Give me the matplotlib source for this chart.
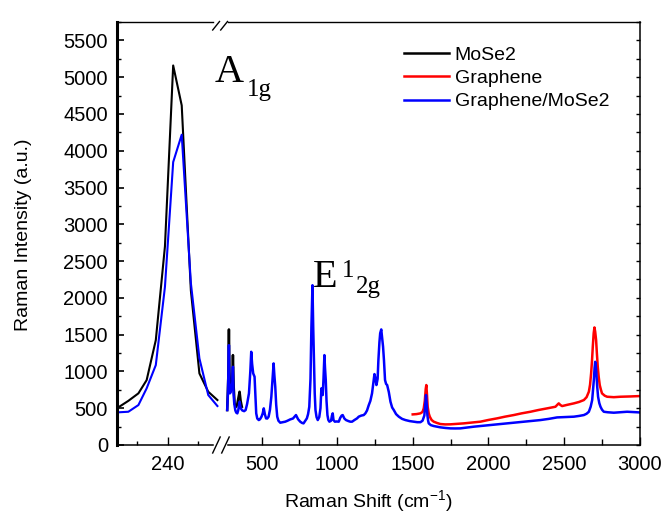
import matplotlib
matplotlib.use("Agg")
import matplotlib.pyplot as plt
from matplotlib.ticker import MultipleLocator, FixedLocator
from matplotlib.lines import Line2D

plt.rcParams['font.family'] = ['Liberation Sans', 'DejaVu Sans']
plt.rcParams['mathtext.default'] = 'regular'

# ---- A1g region (low wavenumber window) ----
low_shift = [223.2, 227.0, 230.3, 233.0, 236.0, 239.0, 241.7, 244.5, 247.5, 250.3, 253.2, 256.2]
low_mose2 = [498, 600, 702, 882, 1425, 2700, 5159, 4616, 2100, 973, 724, 611]
low_hetero = [443, 452, 543, 770, 1086, 2150, 3846, 4218, 2200, 1177, 679, 530]

# ---- wide window ----
mose2_shift = [273, 280, 284.5, 288, 292, 300, 306, 311, 316, 322, 333, 340, 348, 355, 362, 370]
mose2_int = [475, 900, 1571, 1000, 800, 740, 800, 1222, 800, 560, 520, 560, 650, 724, 600, 520]

graphene_shift = [1500, 1525, 1551, 1565, 1573, 1580, 1586, 1590, 1594, 1599, 1606, 1613, 1625,
                  1639, 1660, 1683, 1715, 1749, 1790, 1838, 1890, 1948, 2000, 2058, 2110, 2168,
                  2220, 2279, 2330, 2389, 2444, 2458, 2466, 2476, 2488, 2520, 2566, 2600, 2632,
                  2650, 2665, 2673, 2680, 2686, 2691, 2697, 2702, 2707, 2713, 2718, 2724, 2730,
                  2737, 2745, 2752, 2770, 2786, 2830, 2874, 2940, 3000]
graphene_int = [416, 420, 430, 450, 498, 600, 760, 815, 700, 520, 430, 385, 340,
                317, 300, 285, 280, 281, 287, 294, 305, 317, 340, 362, 385, 407,
                430, 452, 475, 498, 520, 550, 566, 545, 529, 545, 566, 585, 611,
                650, 724, 820, 973, 1150, 1335, 1520, 1598, 1540, 1426, 1250, 1064, 930,
                815, 750, 702, 670, 656, 650, 656, 660, 665]

hetero_shift = [273, 278, 284.5, 288, 291, 296, 302, 307, 311, 315, 320, 327, 333, 340, 346,
                355, 362, 373, 385, 395, 405, 417, 426, 432, 438, 445, 450, 454, 459, 465,
                472, 482, 490, 500, 508, 515, 522, 530, 538, 547, 556, 565, 573, 580, 585,
                591, 597, 604, 612, 624, 640, 657, 672, 690, 708, 728, 742, 756, 768, 778,
                790, 800, 808, 816, 824, 830, 837, 842, 848, 852, 857, 864, 872, 882, 890,
                896, 900, 905, 910, 916, 920, 925, 930, 936, 942, 949, 960, 966, 971, 976,
                985, 998, 1011, 1021, 1030, 1037, 1048, 1059, 1075, 1087, 1099, 1115, 1132,
                1143, 1160, 1176, 1187, 1198, 1209, 1220, 1231, 1240, 1247, 1254, 1260, 1268,
                1273, 1280, 1285, 1292, 1298, 1304, 1310, 1317, 1324, 1331, 1342, 1353, 1364,
                1375, 1390, 1408, 1430, 1452, 1480, 1507, 1530, 1551, 1565, 1577, 1583, 1588,
                1593, 1597, 1602, 1606, 1620, 1639, 1660, 1683, 1715, 1749, 1780, 1815, 1860,
                1904, 1960, 2014, 2070, 2124, 2180, 2235, 2290, 2345, 2400, 2455, 2510, 2566,
                2600, 2632, 2650, 2665, 2677, 2687, 2693, 2698, 2703, 2707, 2711, 2715, 2720,
                2726, 2734, 2742, 2752, 2764, 2790, 2830, 2870, 2918, 2960, 3000]
hetero_int = [475, 700, 1357, 800, 702, 720, 792, 850, 1063, 700, 560, 470, 440, 430, 470,
              588, 500, 470, 460, 475, 560, 702, 1000, 1267, 1100, 973, 950, 928, 700, 430,
              360, 339, 350, 385, 430, 498, 420, 362, 360, 385, 480, 656, 900, 1109, 950,
              792, 550, 385, 330, 303, 310, 317, 330, 348, 360, 407, 350, 317, 300, 294,
              330, 362, 420, 520, 900, 1600, 2172, 1600, 1063, 700, 475, 380, 339, 380, 500,
              770, 740, 679, 900, 1222, 1050, 883, 600, 407, 340, 317, 330, 400, 430, 340,
              317, 320, 317, 370, 400, 407, 360, 339, 325, 317, 317, 340, 362,
              385, 400, 407, 430, 470, 540, 600, 702, 850, 964, 900, 815, 900,
              1150, 1400, 1520, 1571, 1450, 1335, 1150, 883, 830, 815, 720, 588, 510,
              475, 420, 385, 355, 339, 325, 317, 310, 310, 330, 400, 550, 679,
              550, 407, 330, 294, 270, 258, 250, 240, 232, 226, 225, 226, 238,
              249, 260, 271, 283, 294, 305, 317, 328, 339, 355, 375, 380, 385,
              395, 407, 425, 452, 520, 611, 750, 882, 1050, 1131, 1080, 973, 800,
              656, 570, 520, 480, 452, 445, 439, 445, 452, 448, 443]

y_ticks = [0, 500, 1000, 1500, 2000, 2500, 3000, 3500, 4000, 4500, 5000, 5500]
low_ticks = [240]
low_minor = [230, 250]
wide_ticks = [500, 1000, 1500, 2000, 2500, 3000]
wide_minor = [750, 1250, 1750, 2250, 2750]

W, H = 665, 514
fig = plt.figure(figsize=(W / 100, H / 100), dpi=100)


def fx(px):
    return px / W


def fy(py):
    return 1 - py / H


ax_top, ax_bot = 22, 445
brk = 221
ax1 = fig.add_axes([fx(117), fy(ax_bot), fx(brk) - fx(117), fy(ax_top) - fy(ax_bot)])
ax2 = fig.add_axes([fx(brk), fy(ax_bot), fx(639.5) - fx(brk), fy(ax_top) - fy(ax_bot)])

c_black, c_red, c_blue = '#000000', '#ff0000', '#0000ff'

ax1.plot(low_shift, low_mose2, color=c_black, lw=1.5)
ax1.plot(low_shift, low_hetero, color=c_blue, lw=1.5)

ax2.plot(mose2_shift, mose2_int, color=c_black, lw=1.8, label='MoSe2')
ax2.plot(graphene_shift, graphene_int, color=c_red, lw=1.8, label='Graphene')
ax2.plot(hetero_shift, hetero_int, color=c_blue, lw=1.8, label='Graphene/MoSe2')

lo1, hi1 = 223.28, 257.38
lo2, hi2 = 232.1, 3000
ymax = 5750
ax1.set_xlim(lo1, hi1)
ax2.set_xlim(lo2, hi2)
for ax in (ax1, ax2):
    ax.set_ylim(0, ymax)

# spines with a gap at the axis break
ax1.spines['right'].set_visible(False)
ax2.spines['left'].set_visible(False)
ax1.spines['left'].set_linewidth(2.2)
ax1.spines['bottom'].set_linewidth(1.1)
ax1.spines['top'].set_linewidth(1.0)
ax2.spines['bottom'].set_linewidth(1.1)
ax2.spines['top'].set_linewidth(1.0)
ax2.spines['right'].set_linewidth(1.1)
gap_l = lo1 + (213 - 117) / (brk - 117) * (hi1 - lo1)
gap_r = lo2 + (228 - brk) / (639.5 - brk) * (hi2 - lo2)
for s in ('top', 'bottom'):
    ax1.spines[s].set_bounds(lo1, gap_l)
    ax2.spines[s].set_bounds(gap_r, hi2)

# ticks
ax1.yaxis.set_major_locator(FixedLocator(y_ticks))
ax1.yaxis.set_minor_locator(MultipleLocator(250))
ax1.xaxis.set_major_locator(FixedLocator(low_ticks))
ax1.xaxis.set_minor_locator(FixedLocator(low_minor))
ax1.tick_params(axis='y', which='both', direction='in', left=True, right=False,
                labelsize=14.5, pad=6.5)
ax1.tick_params(axis='y', which='major', length=5, width=1.2)
ax1.tick_params(axis='y', which='minor', length=3, width=1.0)
ax1.tick_params(axis='x', which='both', direction='in', top=False, bottom=True,
                labelsize=14.5, pad=7)
ax1.tick_params(axis='x', which='major', length=6, width=1.0)
ax1.tick_params(axis='x', which='minor', length=3, width=1.0)

ax2.xaxis.set_major_locator(FixedLocator(wide_ticks))
ax2.xaxis.set_minor_locator(FixedLocator(wide_minor))
ax2.yaxis.set_major_locator(FixedLocator(y_ticks))
ax2.yaxis.set_minor_locator(MultipleLocator(250))
ax2.tick_params(axis='x', which='both', direction='in', top=False, bottom=True,
                labelsize=14.5, pad=7)
ax2.tick_params(axis='x', which='major', length=6, width=1.0)
ax2.tick_params(axis='x', which='minor', length=4, width=1.0)
ax2.tick_params(axis='y', which='both', direction='in', left=False, right=True,
                labelleft=False, labelright=False, length=3, width=1.0)

# break marks
for x0 in (212.7, 220.7):
    fig.add_artist(Line2D([fx(x0), fx(x0 + 6.8)], [fy(30), fy(21.5)], color='black', lw=1.0))
for x0 in (212.7, 221.7):
    fig.add_artist(Line2D([fx(x0), fx(x0 + 7.5)], [fy(453), fy(437)], color='black', lw=1.0))

# axis titles
fig.text(fx(368), fy(507), 'Raman Shift (cm$^{-1}$)', ha='center', va='baseline', fontsize=14)
fig.text(fx(24), fy(235), 'Raman Intensity (a.u.)', ha='center', va='center',
         rotation=90, fontsize=14)

# peak annotations
serif = ['Liberation Serif', 'DejaVu Serif']
fig.text(fx(215), fy(82), 'A', family=serif, fontsize=29, va='baseline', ha='left')
fig.text(fx(247), fy(96), '1g', family=serif, fontsize=18, va='baseline', ha='left')
fig.text(fx(313), fy(287), 'E', family=serif, fontsize=29, va='baseline', ha='left')
fig.text(fx(342), fy(277), '1', family=serif, fontsize=18, va='baseline', ha='left')
fig.text(fx(356), fy(293), '2g', family=serif, fontsize=18, va='baseline', ha='left')

leg = ax2.legend(loc='upper left', frameon=False, fontsize=14,
                 handlelength=2.3, handletextpad=0.3, labelspacing=0.3, borderaxespad=0,
                 borderpad=0)
leg.set_bbox_to_anchor((fx(404), fy(46)), transform=fig.transFigure)

fig.savefig('out.png', dpi=100)
